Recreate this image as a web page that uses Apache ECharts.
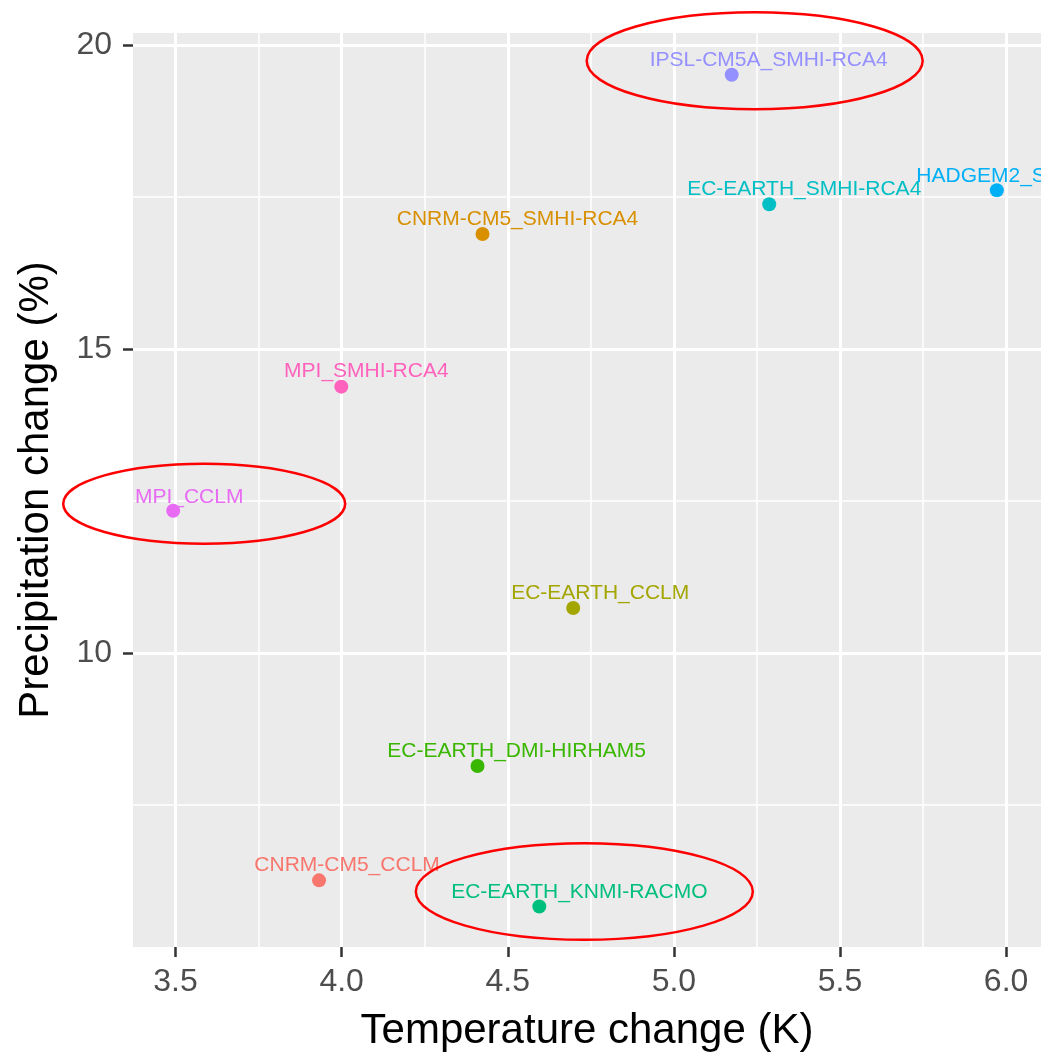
<!DOCTYPE html>
<html><head><meta charset="utf-8">
<script src="https://cdn.jsdelivr.net/npm/echarts@6/dist/echarts.min.js"></script>
<style>html,body{margin:0;padding:0;background:#fff}#c{width:1041px;height:1057px}</style>
</head><body><div id="c"></div>
<script>
// ---- data ----
const models = ['CNRM-CM5_CCLM','CNRM-CM5_SMHI-RCA4','EC-EARTH_CCLM','EC-EARTH_DMI-HIRHAM5','EC-EARTH_KNMI-RACMO','EC-EARTH_SMHI-RCA4','HADGEM2_SMHI-RCA4','IPSL-CM5A_SMHI-RCA4','MPI_CCLM','MPI_SMHI-RCA4'];
const temperatureChange = [3.932, 4.424, 4.697, 4.409, 4.595, 5.287, 5.972, 5.174, 3.493, 3.999];
const precipitationChange = [6.26, 16.89, 10.74, 8.14, 5.83, 17.38, 17.61, 19.51, 12.34, 14.38];
const xTickValues = [3.5, 4.0, 4.5, 5.0, 5.5, 6.0];
const yTickValues = [10, 15, 20];
const highlightedModels = ['IPSL-CM5A_SMHI-RCA4', 'MPI_CCLM', 'EC-EARTH_KNMI-RACMO'];

// ---- styles ----
const modelColors = ['#F8766D','#D89000','#A3A500','#39B600','#00BF7D','#00BFC4','#00B0F6','#9590FF','#E76BF3','#FF62BC'];
const labelOffsets = [[28,-15],[35,-15],[27,-15],[39,-15],[40,-14],[35,-15],[35,-14],[37,-15],[16,-13],[25,-15]];
const ellipseStyle = {
  'IPSL-CM5A_SMHI-RCA4': {dx: 23, dy: -14, rx: 168, ry: 48.5},
  'MPI_CCLM': {dx: 31, dy: -7, rx: 141, ry: 40},
  'EC-EARTH_KNMI-RACMO': {dx: 45, dy: -15, rx: 168.5, ry: 48.3}
};
const FONT = '"Liberation Sans", Arial, sans-serif';

const chart = echarts.init(document.getElementById('c'), null, {renderer: 'canvas'});

const seriesData = models.map((m, i) => ({
  name: m,
  value: [temperatureChange[i], precipitationChange[i]],
  itemStyle: {color: modelColors[i], opacity: 1},
  label: {color: modelColors[i], offset: labelOffsets[i]}
}));

chart.setOption({
  animation: false,
  backgroundColor: '#FFFFFF',
  grid: {left: 133, top: 33, right: 0, bottom: 107, show: true, backgroundColor: '#EBEBEB', borderWidth: 0, containLabel: false},
  xAxis: {
    type: 'value', min: 3.372, max: 6.105, splitNumber: 5,
    name: 'Temperature change (K)', nameLocation: 'middle', nameGap: 63,
    nameTextStyle: {fontFamily: FONT, fontSize: 42, color: '#000'},
    axisLine: {show: false},
    axisTick: {show: true, length: 10, lineStyle: {color: '#333333', width: 2.5}, customValues: xTickValues},
    axisLabel: {margin: 19, fontFamily: FONT, fontSize: 32, color: '#4D4D4D', customValues: xTickValues,
      formatter: v => Number(v).toFixed(1)},
    splitLine: {show: true, lineStyle: {color: '#FFFFFF', width: 3}},
    minorTick: {show: false, splitNumber: 2},
    minorSplitLine: {show: true, lineStyle: {color: '#FFFFFF', width: 1.5}}
  },
  yAxis: {
    type: 'value', min: 5.164, max: 20.197, splitNumber: 3,
    name: 'Precipitation change (%)', nameLocation: 'middle', nameGap: 76,
    nameTextStyle: {fontFamily: FONT, fontSize: 42, color: '#000'},
    axisLine: {show: false},
    axisTick: {show: true, length: 10, lineStyle: {color: '#333333', width: 2.5}, customValues: yTickValues},
    axisLabel: {margin: 21, fontFamily: FONT, fontSize: 32, color: '#4D4D4D', customValues: yTickValues,
      formatter: v => String(Math.round(v))},
    splitLine: {show: true, lineStyle: {color: '#FFFFFF', width: 3}},
    minorTick: {show: false, splitNumber: 2},
    minorSplitLine: {show: true, lineStyle: {color: '#FFFFFF', width: 1.5}}
  },
  series: [{
    type: 'scatter',
    symbol: 'circle',
    symbolSize: 14,
    itemStyle: {opacity: 1},
    data: seriesData,
    label: {show: true, position: 'inside', formatter: p => p.name, fontFamily: FONT, fontSize: 21},
    emphasis: {disabled: true}
  }]
});

// ---- red ellipse annotations around the highlighted models ----
const ellipses = highlightedModels.map(m => {
  const i = models.indexOf(m);
  const p = chart.convertToPixel({seriesIndex: 0}, [temperatureChange[i], precipitationChange[i]]);
  const s = ellipseStyle[m];
  return {
    type: 'ellipse', z: 100, silent: true,
    shape: {cx: p[0] + s.dx, cy: p[1] + s.dy, rx: s.rx, ry: s.ry},
    style: {fill: null, stroke: '#FF0000', lineWidth: 2.5}
  };
});
chart.setOption({graphic: {elements: ellipses}});
</script>
</body></html>
